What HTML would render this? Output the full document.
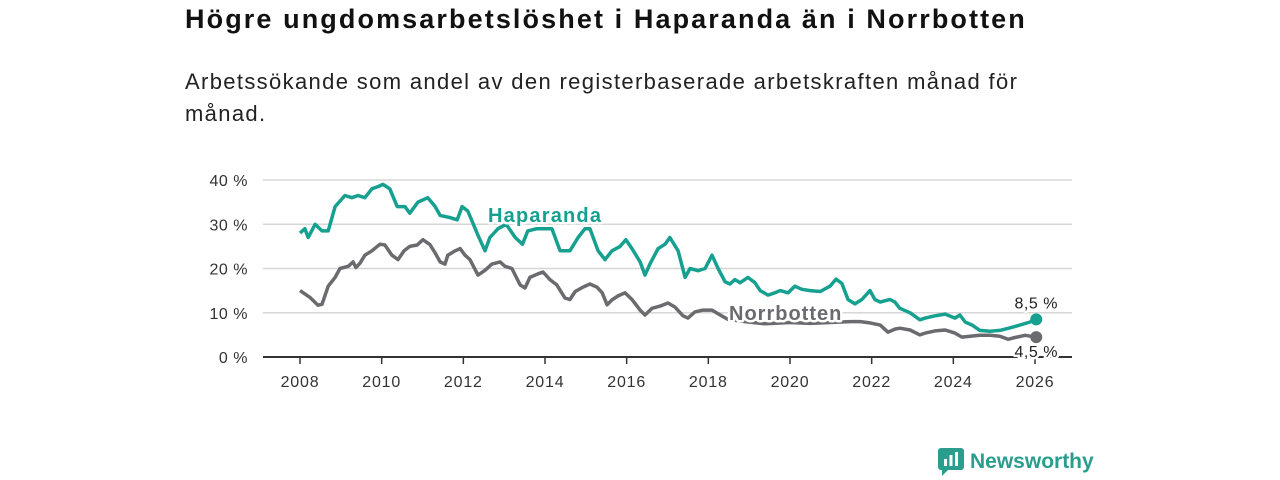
<!DOCTYPE html>
<html><head><meta charset="utf-8"><style>
body{margin:0;width:1280px;height:480px;background:#fff;font-family:"Liberation Sans",sans-serif;overflow:hidden;position:relative}
h1{position:absolute;left:185px;top:4px;margin:0;font-size:27px;letter-spacing:2.1px;font-weight:bold;color:#111;white-space:nowrap}
p.sub{position:absolute;left:185px;top:66px;margin:0;width:900px;font-size:22px;letter-spacing:1.35px;line-height:32px;color:#222}
svg{position:absolute;left:0;top:0}
.logo{position:absolute;left:938px;top:448px;display:flex;align-items:center;gap:6px;font-size:21px;font-weight:bold;color:#2a9d8f}
</style></head><body>
<h1>Högre ungdomsarbetslöshet i Haparanda än i Norrbotten</h1>
<p class="sub">Arbetssökande som andel av den registerbaserade arbetskraften månad för<br>månad.</p>
<svg id="chart" width="1280" height="480"></svg>
<div class="logo"><svg width="26" height="28" style="position:static"><rect x="0" y="0" width="26" height="22" rx="3" fill="#2a9d8f"/><polygon points="4,22 10,22 4,28" fill="#2a9d8f"/><rect x="6" y="11" width="3" height="7" fill="#fff"/><rect x="11.5" y="7" width="3" height="11" fill="#fff"/><rect x="17" y="4" width="3" height="14" fill="#fff"/></svg><span>Newsworthy</span></div>
<script>
const yTicks=[0,10,20,30,40];
const xTicks=[2008,2010,2012,2014,2016,2018,2020,2022,2024,2026];
const hapYears=[2008.00,2008.12,2008.20,2008.37,2008.54,2008.69,2008.86,2009.10,2009.27,2009.42,2009.59,2009.76,2009.91,2010.03,2010.20,2010.38,2010.57,2010.69,2010.89,2011.13,2011.31,2011.43,2011.67,2011.85,2011.97,2012.11,2012.36,2012.53,2012.65,2012.85,2013.05,2013.27,2013.45,2013.58,2013.80,2014.00,2014.17,2014.37,2014.61,2014.81,2014.98,2015.10,2015.30,2015.47,2015.64,2015.84,2015.98,2016.13,2016.33,2016.45,2016.57,2016.77,2016.94,2017.06,2017.26,2017.43,2017.55,2017.75,2017.92,2018.09,2018.24,2018.41,2018.53,2018.65,2018.78,2018.97,2019.14,2019.27,2019.46,2019.63,2019.76,2019.95,2020.12,2020.29,2020.49,2020.74,2020.98,2021.13,2021.27,2021.42,2021.59,2021.76,2021.96,2022.08,2022.21,2022.45,2022.57,2022.69,2022.94,2023.18,2023.31,2023.55,2023.80,2024.04,2024.16,2024.29,2024.46,2024.65,2024.90,2025.14,2025.39,2025.63,2025.88,2026.03];
const hapValues=[28,29,27,30,28.5,28.5,34,36.5,36,36.5,36,38,38.5,39,38,34,34,32.5,35,36,34,32,31.5,31,34,33,27.5,24,27,29,30,27,25.5,28.5,29,29,29,24,24,27,29,29,24,22,24,25,26.5,24.5,21.5,18.5,21,24.5,25.5,27,24,18,20,19.5,20,23,20,17,16.5,17.5,16.8,18,16.8,15,14,14.5,15,14.5,16,15.3,15,14.8,16,17.6,16.6,13,12,13,15,13,12.4,13,12.4,11,10,8.4,8.8,9.3,9.7,8.8,9.5,7.9,7.2,6,5.8,6,6.6,7.2,7.9,8.5];
const norYears=[2008.00,2008.24,2008.44,2008.54,2008.69,2008.86,2008.98,2009.18,2009.30,2009.37,2009.47,2009.59,2009.76,2009.96,2010.08,2010.25,2010.40,2010.55,2010.69,2010.87,2011.01,2011.18,2011.31,2011.43,2011.55,2011.62,2011.80,2011.92,2012.04,2012.16,2012.36,2012.53,2012.70,2012.90,2013.02,2013.19,2013.39,2013.51,2013.63,2013.83,2013.95,2014.12,2014.29,2014.49,2014.61,2014.74,2014.93,2015.10,2015.27,2015.40,2015.52,2015.64,2015.79,2015.96,2016.13,2016.33,2016.45,2016.62,2016.82,2017.01,2017.18,2017.38,2017.50,2017.67,2017.87,2018.09,2018.29,2018.48,2018.90,2019.39,2020.00,2020.49,2020.98,2021.47,2021.72,2021.96,2022.21,2022.40,2022.57,2022.69,2022.94,2023.18,2023.31,2023.55,2023.80,2024.04,2024.21,2024.41,2024.65,2024.90,2025.14,2025.34,2025.51,2025.76,2026.03];
const norValues=[15,13.5,11.7,11.9,16,18,20,20.5,21.5,20.2,21.2,23,24,25.5,25.3,23,22,24,25,25.3,26.5,25.4,23.5,21.5,21,23,24,24.5,23,22,18.5,19.6,21,21.5,20.5,20,16.3,15.6,18,18.8,19.2,17.5,16.3,13.3,13,14.8,15.8,16.5,15.8,14.5,11.8,12.9,13.8,14.5,13,10.6,9.5,11,11.5,12.2,11.3,9.3,8.8,10.2,10.6,10.6,9.5,8.5,8.0,7.5,7.8,7.6,7.8,8,8,7.7,7.2,5.6,6.3,6.5,6.1,5,5.4,5.9,6.1,5.4,4.5,4.7,4.9,4.9,4.7,4.0,4.4,4.9,4.5];
const NS='http://www.w3.org/2000/svg';
const svg=document.getElementById('chart');
const X=y=>300+(y-2008)*(735/18);
const Y=v=>357-v*(177/40);
function mk(t,a){const e=document.createElementNS(NS,t);for(const k in a)e.setAttribute(k,a[k]);svg.appendChild(e);return e;}
yTicks.forEach(t=>{
 const g=mk('line',{x1:263,x2:1072,y1:Y(t),y2:Y(t),stroke:'#d6d6d6','stroke-width':1.5});
 
 
 const l=mk('text',{x:248,y:Y(t)+6,'text-anchor':'end','font-size':16,'letter-spacing':0.5,fill:'#333','font-family':'Liberation Sans, sans-serif'});
 l.textContent=t+' %';
 
 
});
xTicks.forEach(t=>{
 const k=mk('line',{x1:X(t),x2:X(t),y1:357,y2:364,stroke:'#333','stroke-width':1.5});
 
 
 const l=mk('text',{x:X(t),y:387,'text-anchor':'middle','font-size':16,'letter-spacing':0.8,fill:'#333','font-family':'Liberation Sans, sans-serif'});
 l.textContent=t;
 
 
});
const ax=mk('line',{x1:263,x2:1072,y1:357,y2:357,stroke:'#333','stroke-width':2});


function series(ys,vs,col,name){
 const d=ys.map((y,i)=>(i?'L':'M')+X(y).toFixed(1)+','+Y(vs[i]).toFixed(1)).join('');
 const p=mk('path',{d:d,fill:'none',stroke:col,'stroke-width':3.5,'stroke-linejoin':'round'});
 
 
 const n=ys.length-1;
 const c=mk('circle',{cx:X(ys[n]),cy:Y(vs[n]),r:6,fill:col});
 
 
}
series(norYears,norValues,'#6b6a6f','norrbotten');
series(hapYears,hapValues,'#16a090','haparanda');
function label(x,y,txt,col,size,w,name,anchor,ls){
 const t=mk('text',{x:x,y:y,fill:col,'font-size':size,'font-weight':w,'text-anchor':anchor,'letter-spacing':ls,stroke:'#fff','stroke-width':5,'paint-order':'stroke','stroke-linejoin':'round','font-family':'Liberation Sans, sans-serif'});
 t.textContent=txt;
 
 
}
label(488,222,'Haparanda','#16a090',20,'bold','haparanda-label','start',1.2);
label(729,320,'Norrbotten','#6b6a6f',20,'bold','norrbotten-label','start',1);
const hn=hapValues.length-1, nn=norValues.length-1;
label(X(hapYears[hn]),Y(hapValues[hn])-11,String(hapValues[hn]).replace('.',',')+' %','#222',16,'normal','haparanda-value-label','middle',0.5);
label(X(norYears[nn]),Y(norValues[nn])+20,String(norValues[nn]).replace('.',',')+' %','#222',16,'normal','norrbotten-value-label','middle',0.5);
</script>
</body></html>
